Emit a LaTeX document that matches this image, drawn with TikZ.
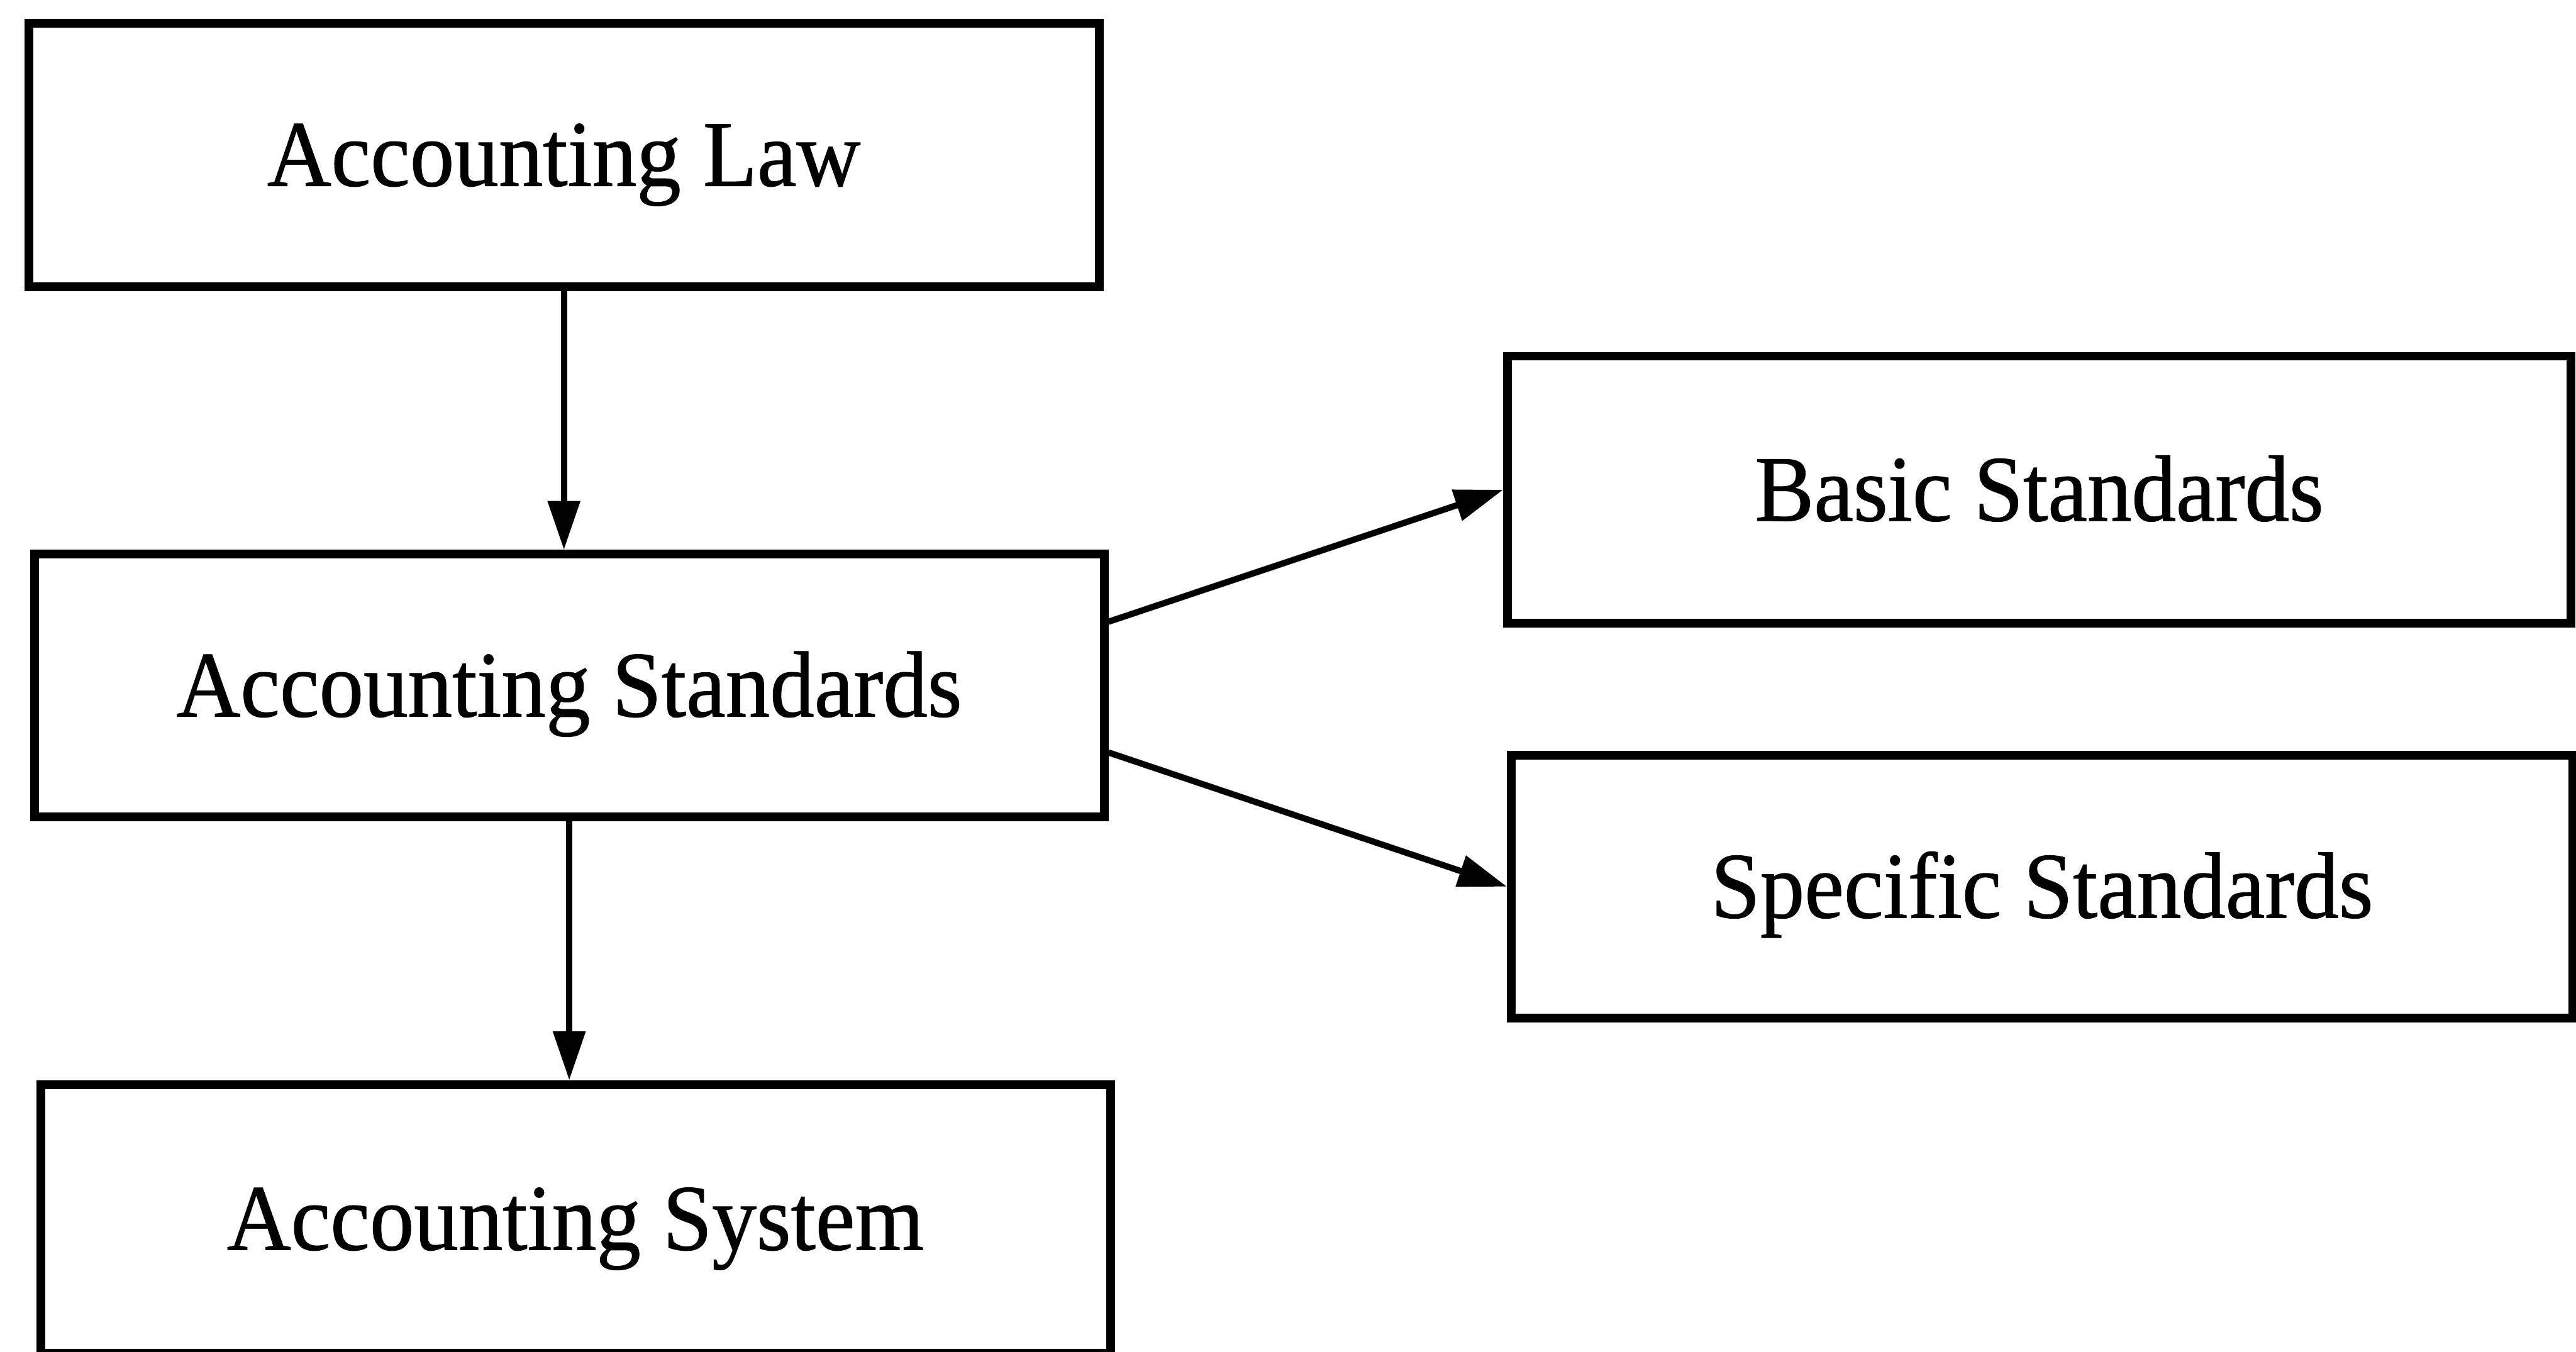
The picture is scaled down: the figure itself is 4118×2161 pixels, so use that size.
\documentclass[tikz,border=0pt]{standalone}
\usepackage{fontspec}
\setmainfont{Liberation Serif}[FakeStretch=0.945,FakeBold=0.8]
\usetikzlibrary{arrows.meta,calc}
\tikzset{
  box/.style={draw=black, line width=14pt, rectangle, inner sep=0pt,
    font=\fontsize{150}{170}\selectfont, text height=99pt, text depth=0pt},
  conn/.style={line width=10pt, -{Triangle[length=78pt,width=50pt]}}
}
\begin{document}
\begin{tikzpicture}[x=1pt,y=-1pt]
\useasboundingbox[fill=white] (0,0) rectangle (4118,2161);
\node[box, minimum width=1711pt, minimum height=421pt] (law) at (901.5,247.5) {Accounting Law};
\node[box, minimum width=1710pt, minimum height=420pt] (std) at (910,1096) {Accounting Standards};
\node[box, minimum width=1710pt, minimum height=429pt] (sys) at (920,1948.5) {Accounting System};
\node[box, minimum width=1700pt, minimum height=427pt] (bas) at (3260,783) {Basic Standards};
\node[box, minimum width=1697pt, minimum height=421pt] (spec) at (3264.5,1417.5) {Specific Standards};
\coordinate (s1) at ($(std.east)+(0,-102)$);
\coordinate (s2) at ($(std.east)+(0,107)$);
\draw[conn] (law.south) -- (law.south |- std.north);
\draw[conn] (std.south) -- (std.south |- sys.north);
\draw[conn] (s1) -- (bas.west);
\draw[conn] (s2) -- (spec.west);
\end{tikzpicture}
\end{document}
